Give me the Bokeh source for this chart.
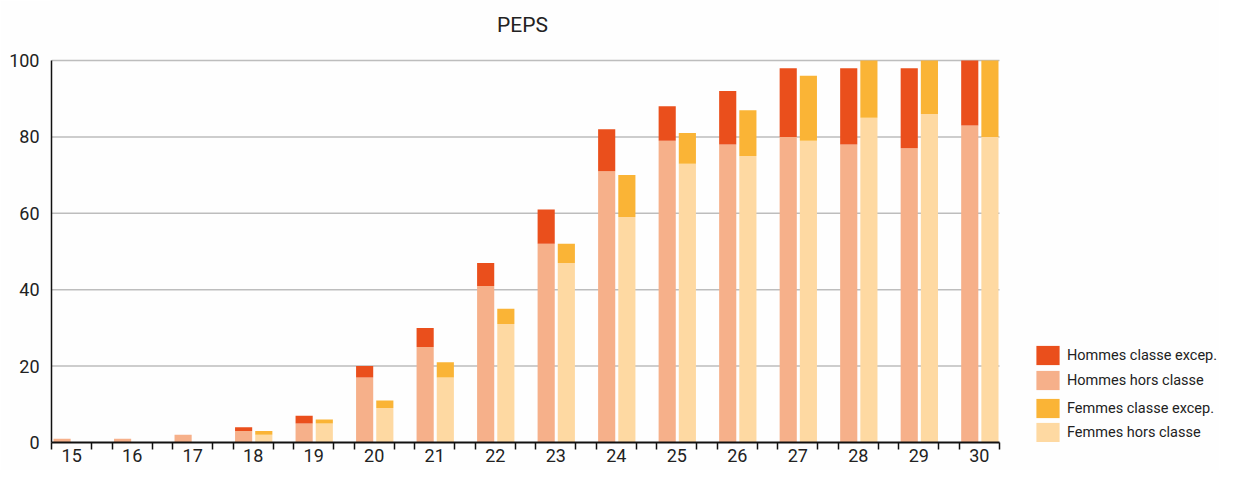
from bokeh.plotting import figure
from bokeh.models import ColumnDataSource, FixedTicker, Legend, LegendItem, Range1d, Label
from bokeh.embed import file_html
from bokeh.resources import INLINE

# ---- data ----
ages = ["15", "16", "17", "18", "19", "20", "21", "22",
        "23", "24", "25", "26", "27", "28", "29", "30"]
hommes_hors = [1, 1, 2, 3, 5, 17, 25, 41, 52, 71, 79, 78, 80, 78, 77, 83]
hommes_excep = [0, 0, 0, 1, 2, 3, 5, 6, 9, 11, 9, 14, 18, 20, 21, 17]
femmes_hors = [0, 0, 0, 2, 5, 9, 17, 31, 47, 59, 73, 75, 79, 85, 86, 80]
femmes_excep = [0, 0, 0, 1, 1, 2, 4, 4, 5, 11, 8, 12, 17, 15, 14, 20]
y_ticks = [0, 20, 40, 60, 80, 100]
title_text = "PEPS"

# ---- style / layout ----
FONT = "Roboto"
C_H_EXC = "#EA4F1C"
C_H_HORS = "#F6B08A"
C_F_EXC = "#FAB436"
C_F_HORS = "#FED9A2"
TXT = "#222222"
BG = "#FEFEFE"

W, H = 1219, 470
LEFT = 51            # frame left (px)
BOTTOM_BORDER = 28   # space under the x axis (px)
AXIS_RIGHT_PX = 999  # where the category axis ends (px)
AXIS_TOP_PX = 60     # where the value 100 sits (px)

PERIOD = 60.0   # group pitch in x units
GW = 40.0       # group width (between the ticks)
BW = 17.0       # bar width

n = len(ages)
x_axis_end = (n - 1) * PERIOD + GW
px_per_unit = (AXIS_RIGHT_PX - LEFT) / x_axis_end
x_end = x_axis_end + (W - AXIS_RIGHT_PX) / px_per_unit

y_top = y_ticks[-1]
frame_bottom_px = H - BOTTOM_BORDER
px_per_y = (frame_bottom_px - AXIS_TOP_PX) / y_top
y_end = y_top + AXIS_TOP_PX / px_per_y

starts = [i * PERIOD for i in range(n)]
src = ColumnDataSource(dict(
    xh=[s + 10.5 for s in starts],
    xf=[s + 30.5 for s in starts],
    hh=hommes_hors, he=hommes_excep,
    fh=femmes_hors, fe=femmes_excep,
))

p = figure(width=W, height=H, output_backend="svg", toolbar_location=None,
           x_range=Range1d(0, x_end), y_range=Range1d(0, y_end),
           min_border_left=LEFT, min_border_right=0, min_border_top=0,
           min_border_bottom=BOTTOM_BORDER)
p.outline_line_color = None
p.background_fill_color = BG
p.border_fill_color = BG

# horizontal grid lines, only across the category area
p.segment(x0=[0] * (len(y_ticks) - 1), x1=[x_axis_end] * (len(y_ticks) - 1),
          y0=y_ticks[1:], y1=y_ticks[1:], line_color="#BDBDBD",
          line_width=1.5, level="underlay")

rh = p.vbar_stack(["hh", "he"], x="xh", width=BW, source=src,
                  color=[C_H_HORS, C_H_EXC], line_color=None)
rf = p.vbar_stack(["fh", "fe"], x="xf", width=BW, source=src,
                  color=[C_F_HORS, C_F_EXC], line_color=None)

# title (screen units, relative to the frame's bottom-left corner)
p.add_layout(Label(x=522 - LEFT, y=frame_bottom_px - 24,
                   x_units="screen", y_units="screen", text=title_text,
                   text_align="center", text_baseline="middle",
                   text_font=FONT, text_font_size="21px", text_color=TXT))

# x axis: labels at group centres, ticks at group edges
centers = [s + GW / 2 for s in starts]
edges = []
for s in starts:
    edges += [s, s + GW]
p.xaxis.bounds = (0, x_axis_end)
p.xaxis.ticker = FixedTicker(ticks=centers, minor_ticks=edges)
p.xaxis.major_label_overrides = {c: a for c, a in zip(centers, ages)}
p.xaxis.major_tick_line_color = None
p.xaxis.major_tick_out = 7
p.xaxis.major_tick_in = 0
p.xaxis.minor_tick_out = 7
p.xaxis.minor_tick_in = 0
p.xaxis.minor_tick_line_color = "#111111"
p.xaxis.minor_tick_line_width = 1.5
p.xaxis.axis_line_color = "#111111"
p.xaxis.axis_line_width = 2
p.xaxis.major_label_standoff = -1
p.xaxis.major_label_text_font = FONT
p.xaxis.major_label_text_font_size = "18px"
p.xaxis.major_label_text_color = TXT
p.xgrid.grid_line_color = None
p.ygrid.grid_line_color = None

# y axis
p.yaxis.bounds = (0, y_top)
p.yaxis.ticker = FixedTicker(ticks=y_ticks)
p.yaxis.major_tick_line_color = None
p.yaxis.minor_tick_line_color = None
p.yaxis.axis_line_color = "#111111"
p.yaxis.axis_line_width = 1.5
p.yaxis.major_label_standoff = 6
p.yaxis.major_label_text_font = FONT
p.yaxis.major_label_text_font_size = "18px"
p.yaxis.major_label_text_color = TXT

# legends (two blocks)
def make_legend(items, loc, spacing):
    lg = Legend(items=items, location=loc, orientation="vertical",
                glyph_width=29, glyph_height=24, spacing=spacing,
                label_standoff=5, padding=0, margin=0,
                border_line_color=None, background_fill_alpha=0,
                label_text_font=FONT, label_text_font_size="14.5px",
                label_text_color=TXT)
    p.add_layout(lg, "center")

make_legend([LegendItem(label="Hommes classe excep.", renderers=[rh[1]]),
             LegendItem(label="Hommes hors classe", renderers=[rh[0]])],
            (982, 50), 1)
make_legend([LegendItem(label="Femmes classe excep.", renderers=[rf[1]]),
             LegendItem(label="Femmes hors classe", renderers=[rf[0]])],
            (982, -2), 0)

open("out.html", "w").write(file_html(p, INLINE))
